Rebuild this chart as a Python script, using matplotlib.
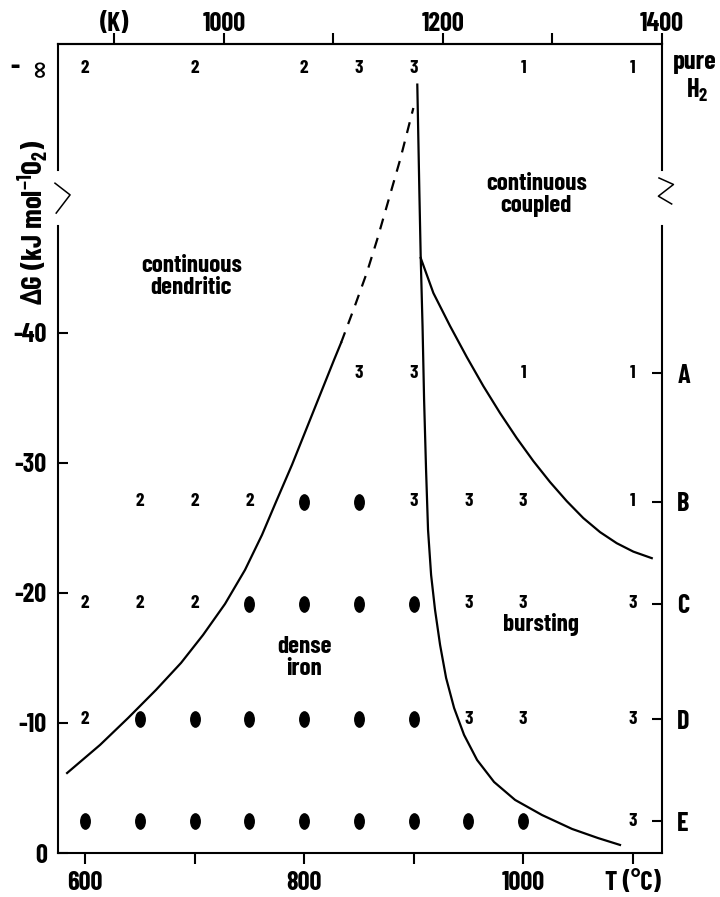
import matplotlib
matplotlib.use("Agg")
import matplotlib.pyplot as plt
from matplotlib.path import Path
from matplotlib.transforms import Affine2D

FONT = ["Barlow Condensed", "Liberation Sans", "DejaVu Sans"]
plt.rcParams["font.family"] = FONT
plt.rcParams["font.weight"] = "bold"
plt.rcParams["axes.unicode_minus"] = False
plt.rcParams["mathtext.fontset"] = "custom"
plt.rcParams["mathtext.rm"] = "Barlow Condensed:bold"
plt.rcParams["mathtext.it"] = "Barlow Condensed:bold"
plt.rcParams["mathtext.bf"] = "Barlow Condensed:bold"

# --- data ---------------------------------------------------------------
temps = [600, 650, 700, 750, 800, 850, 900, 950, 1000, 1100]   # T (°C)
row_labels = ["", "A", "B", "C", "D", "E"]
row_dg = [-60.3, -36.9, -27.0, -19.15, -10.3, -2.46]          # ΔG, first row = pure H2
# "1","2","3" = morphology type, "*" = dense iron, "" = no run
morph_h2 = ["2", "", "2", "", "2", "3", "3", "", "1", "1"]
morph_a = ["", "", "", "", "", "3", "3", "", "1", "1"]
morph_b = ["", "2", "2", "2", "*", "*", "3", "3", "3", "1"]
morph_c = ["2", "2", "2", "*", "*", "*", "*", "3", "3", "3"]
morph_d = ["2", "*", "*", "*", "*", "*", "*", "3", "3", "3"]
morph_e = ["*", "*", "*", "*", "*", "*", "*", "*", "*", "3"]
morph_rows = [morph_h2, morph_a, morph_b, morph_c, morph_d, morph_e]

# continuous dendritic / dense iron boundary
dendritic_T = [583.6, 613.7, 639.3, 664.8, 687.7, 707.8, 727.8, 746.1, 761.6,
               774.4, 789.0, 801.8, 814.6, 827.4, 833.8]
dendritic_G = [-6.15, -8.31, -10.38, -12.54, -14.62, -16.77, -19.15, -21.77, -24.46,
               -27.0, -29.85, -32.54, -35.23, -37.92, -39.23]
# dashed extrapolation of it
dashed_T = [833.8, 845.7, 857.2, 866.7, 875.5, 881.7, 887.7, 893.8, 899.8]
dashed_G = [-39.23, -41.9, -44.59, -47.15, -49.72, -51.54, -53.3, -55.3, -57.28]
# dense iron / bursting boundary
burst_T = [903.4, 905.3, 906.5, 908.2, 909.6, 911.4, 913.2, 916.0, 919.6, 924.2,
           929.7, 937.0, 946.1, 958.0, 973.5, 992.7, 1017.3, 1044.7, 1068.4, 1088.5]
burst_G = [-59.08, -50.77, -45.85, -40.46, -34.85, -29.46, -24.85, -21.38, -18.69, -16.0,
           -13.46, -11.15, -9.08, -7.15, -5.46, -4.08, -2.92, -1.85, -1.15, -0.62]
# continuous coupled / bursting boundary
coupled_T = [906.5, 918.1, 933.3, 948.6, 963.7, 979.0, 994.2, 1009.4, 1024.6,
             1039.9, 1055.0, 1070.3, 1085.5, 1100.7, 1117.5]
coupled_G = [-45.75, -43.05, -40.52, -38.13, -35.9, -33.82, -31.9, -30.13, -28.52,
             -27.05, -25.75, -24.67, -23.82, -23.17, -22.67]

c_ticks = [600, 700, 800, 900, 1000, 1100]
c_ticklabels = ["600", "", "800", "", "1000", "T (°C)"]
k_ticks = [900, 1000, 1100, 1200, 1300, 1400]
k_ticklabels = ["(K)", "1000", "", "1200", "", "1400"]
g_ticks = [0, -10, -20, -30, -40]
g_ticklabels = ["0", "-10", "-20", "-30", "-40"]
break_lo, break_hi = -48.2, -52.5

# --- figure ---------------------------------------------------------------
fig = plt.figure(figsize=(7.2, 8.97), dpi=100)
ax = fig.add_axes([58 / 720, 44 / 897, 604 / 720, 809 / 897])
ax.set_xlim(575.3, 1126.85)
ax.set_ylim(0, -62.2)

lw = 1.6
ax.plot(dendritic_T, dendritic_G, color="black", lw=lw)
ax.plot(dashed_T, dashed_G, color="black", lw=lw, dashes=(5, 4))
ax.plot(burst_T, burst_G, color="black", lw=lw)
ax.plot(coupled_T, coupled_G, color="black", lw=lw)

dot = Path.unit_circle().transformed(Affine2D().scale(0.62, 1.0))
for g, row in zip(row_dg, morph_rows):
    for t, m in zip(temps, row):
        if m == "*":
            ax.plot(t, g, marker=dot, markersize=11, color="black", linestyle="none")
        elif m:
            ax.text(t, g, m, ha="center", va="center", fontsize=14, fontweight="bold")

label_kw = dict(ha="center", va="center", fontsize=18, fontweight="bold", linespacing=1.0)
ax.text(697, -44.3, "continuous\ndendritic", **label_kw)
ax.text(1012, -50.6, "continuous\ncoupled", **label_kw)
ax.text(800, -15.0, "dense\niron", **label_kw)
ax.text(1016, -17.6, "bursting", **label_kw)

# left / right spines with a break
for side in ("left", "right"):
    ax.spines[side].set_visible(False)
for side in ("top", "bottom"):
    ax.spines[side].set_linewidth(1.5)
ytr = ax.get_yaxis_transform()
for x in (0, 1):
    ax.plot([x, x], [0, break_lo], transform=ytr, color="black", lw=1.5, clip_on=False)
    ax.plot([x, x], [break_hi, -62.2], transform=ytr, color="black", lw=1.5, clip_on=False)
ax.plot([-0.005, 0.020, -0.003], [-51.5, -50.6, -49.2], transform=ytr,
        color="black", lw=1.1, clip_on=False)
ax.plot([0.995, 1.019, 0.994, 1.016], [-51.9, -51.4, -50.5, -49.9], transform=ytr,
        color="black", lw=1.1, clip_on=False)

ax.set_xticks(c_ticks)
ax.set_xticklabels(c_ticklabels)
ax.set_yticks(g_ticks)
ax.set_yticklabels(g_ticklabels)
ax.tick_params(axis="x", direction="out", length=8, width=1.5, pad=5, labelsize=19)
ax.tick_params(axis="y", direction="in", length=7, width=1.5, pad=8, labelsize=19)

top = ax.secondary_xaxis("top", functions=(lambda c: c + 273.15, lambda k: k - 273.15))
top.set_xticks(k_ticks)
top.set_xticklabels(k_ticklabels)
top.tick_params(direction="out", length=8, width=1.5, pad=-2, labelsize=19)
top.spines["top"].set_linewidth(1.5)

right = ax.twinx()
right.set_ylim(ax.get_ylim())
right.set_yticks(row_dg[1:])
right.set_yticklabels(row_labels[1:])
right.tick_params(axis="y", direction="in", length=7, width=1.5, pad=11, labelsize=19)
for s in right.spines.values():
    s.set_visible(False)

ax.text(1.054, -60.8, "pure", transform=ytr, ha="center", va="center", fontsize=19)
ax.text(1.058, -58.6, "H$_2$", transform=ytr, ha="center", va="center", fontsize=19)
ax.text(-0.072, -60.4, "-", transform=ytr, ha="center", va="center", fontsize=20)
ax.text(-0.032, -60.4, "∞", transform=ytr, ha="center", va="center", fontsize=17,
        rotation=90, family=["DejaVu Sans"], fontweight="bold")

fig.text(33 / 720, 1 - 222 / 897, "ΔG (kJ mol$^{-1}$O$_2$)", rotation=90,
         ha="center", va="center", fontsize=21, fontweight="bold", family=FONT)

fig.savefig("out.png", dpi=100, facecolor="white")
